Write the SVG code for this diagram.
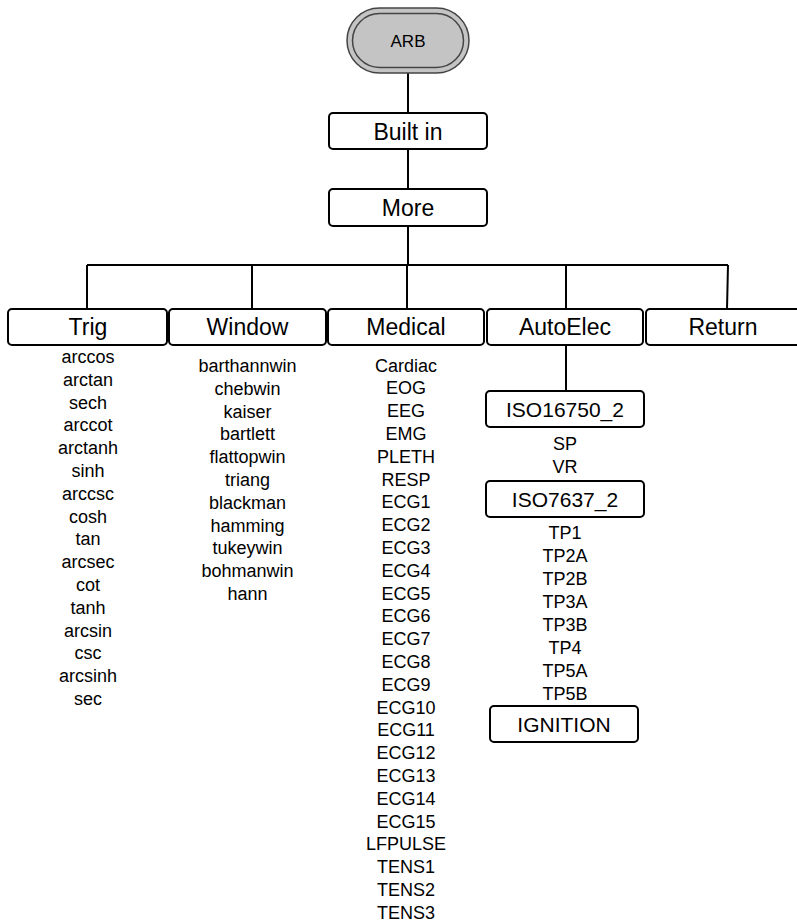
<svg xmlns="http://www.w3.org/2000/svg" width="797" height="922" viewBox="0 0 797 922">
<style>
.box{fill:#fff;stroke:#000;stroke-width:2}
.bt{font-family:"Liberation Sans",Arial,sans-serif;font-size:23px;text-anchor:middle;fill:#000}
.st{font-family:"Liberation Sans",Arial,sans-serif;font-size:21px;text-anchor:middle;fill:#000}
.li{font-family:"Liberation Sans",Arial,sans-serif;font-size:18px;text-anchor:middle;fill:#000}
.con{fill:none;stroke:#000;stroke-width:2}
</style>
<rect width="797" height="922" fill="#fff"/>
<g id="connectors">
<path class="con" d="M408 73V113M408 149V189M408 226V265M87 265H728M87 265V309M252 265V309M407 265V309M566 265V309M728 265L727 309M566 346V390"/>
</g>
<g id="arb">
<rect x="347" y="8" width="122" height="65" rx="32.5" fill="#c4c4c4" stroke="#444" stroke-width="1.5"/>
<rect x="352.5" y="13.5" width="111" height="54" rx="27" fill="none" stroke="#444" stroke-width="1.5"/>
<text x="408" y="47" class="bt" style="font-size:17px">ARB</text>
</g>
<g id="builtin">
<rect class="box" x="329" y="113" width="158" height="36" rx="4"/>
<text x="408" y="139.5" class="bt">Built in</text>
</g>
<g id="more">
<rect class="box" x="329" y="189" width="158" height="37" rx="4"/>
<text x="408" y="216" class="bt">More</text>
</g>
<g id="trig">
<rect class="box" x="8" y="309" width="159" height="36" rx="4"/>
<text x="88" y="335" class="bt">Trig</text>
<g class="li">
<text x="88" y="363" class="li">arccos</text>
<text x="88" y="385.8" class="li">arctan</text>
<text x="88" y="408.6" class="li">sech</text>
<text x="88" y="431.4" class="li">arccot</text>
<text x="88" y="454.2" class="li">arctanh</text>
<text x="88" y="477" class="li">sinh</text>
<text x="88" y="499.8" class="li">arccsc</text>
<text x="88" y="522.6" class="li">cosh</text>
<text x="88" y="545.4" class="li">tan</text>
<text x="88" y="568.2" class="li">arcsec</text>
<text x="88" y="591" class="li">cot</text>
<text x="88" y="613.8" class="li">tanh</text>
<text x="88" y="636.6" class="li">arcsin</text>
<text x="88" y="659.4" class="li">csc</text>
<text x="88" y="682.2" class="li">arcsinh</text>
<text x="88" y="705" class="li">sec</text>
</g>
</g>
<g id="window">
<rect class="box" x="169" y="309" width="157" height="36" rx="4"/>
<text x="247.5" y="335" class="bt">Window</text>
<text x="247.5" y="372" class="li">barthannwin</text>
<text x="247.5" y="394.8" class="li">chebwin</text>
<text x="247.5" y="417.6" class="li">kaiser</text>
<text x="247.5" y="440.4" class="li">bartlett</text>
<text x="247.5" y="463.2" class="li">flattopwin</text>
<text x="247.5" y="486" class="li">triang</text>
<text x="247.5" y="508.8" class="li">blackman</text>
<text x="247.5" y="531.6" class="li">hamming</text>
<text x="247.5" y="554.4" class="li">tukeywin</text>
<text x="247.5" y="577.2" class="li">bohmanwin</text>
<text x="247.5" y="600" class="li">hann</text>
</g>
<g id="medical">
<rect class="box" x="328" y="309" width="156" height="36" rx="4"/>
<text x="406" y="335" class="bt">Medical</text>
<text x="406" y="371.5" class="li">Cardiac</text>
<text x="406" y="394.3" class="li">EOG</text>
<text x="406" y="417.1" class="li">EEG</text>
<text x="406" y="439.9" class="li">EMG</text>
<text x="406" y="462.7" class="li">PLETH</text>
<text x="406" y="485.5" class="li">RESP</text>
<text x="406" y="508.3" class="li">ECG1</text>
<text x="406" y="531.1" class="li">ECG2</text>
<text x="406" y="553.9" class="li">ECG3</text>
<text x="406" y="576.7" class="li">ECG4</text>
<text x="406" y="599.5" class="li">ECG5</text>
<text x="406" y="622.3" class="li">ECG6</text>
<text x="406" y="645.1" class="li">ECG7</text>
<text x="406" y="667.9" class="li">ECG8</text>
<text x="406" y="690.7" class="li">ECG9</text>
<text x="406" y="713.5" class="li">ECG10</text>
<text x="406" y="736.3" class="li">ECG11</text>
<text x="406" y="759.1" class="li">ECG12</text>
<text x="406" y="781.9" class="li">ECG13</text>
<text x="406" y="804.7" class="li">ECG14</text>
<text x="406" y="827.5" class="li">ECG15</text>
<text x="406" y="850.3" class="li">LFPULSE</text>
<text x="406" y="873.1" class="li">TENS1</text>
<text x="406" y="895.9" class="li">TENS2</text>
<text x="406" y="918.7" class="li">TENS3</text>
</g>
<g id="autoelec">
<rect class="box" x="487" y="309" width="156" height="36" rx="4"/>
<text x="565" y="335" class="bt">AutoElec</text>
</g>
<g id="return">
<rect class="box" x="646" y="309" width="160" height="36" rx="4"/>
<text x="723" y="335" class="bt">Return</text>
</g>
<g id="iso16750">
<rect class="box" x="486" y="391" width="158" height="36" rx="4"/>
<text x="565" y="416.5" class="st">ISO16750_2</text>
<text x="565" y="450" class="li">SP</text>
<text x="565" y="472.5" class="li">VR</text>
</g>
<g id="iso7637">
<rect class="box" x="486" y="481" width="158" height="36" rx="4"/>
<text x="565" y="506.5" class="st">ISO7637_2</text>
<text x="565" y="538.5" class="li">TP1</text>
<text x="565" y="561.5" class="li">TP2A</text>
<text x="565" y="584.5" class="li">TP2B</text>
<text x="565" y="607.5" class="li">TP3A</text>
<text x="565" y="630.5" class="li">TP3B</text>
<text x="565" y="653.5" class="li">TP4</text>
<text x="565" y="676.5" class="li">TP5A</text>
<text x="565" y="699.5" class="li">TP5B</text>
</g>
<g id="ignition">
<rect class="box" x="490" y="706" width="148" height="36" rx="4"/>
<text x="564" y="731.5" class="st">IGNITION</text>
</g>
</svg>
